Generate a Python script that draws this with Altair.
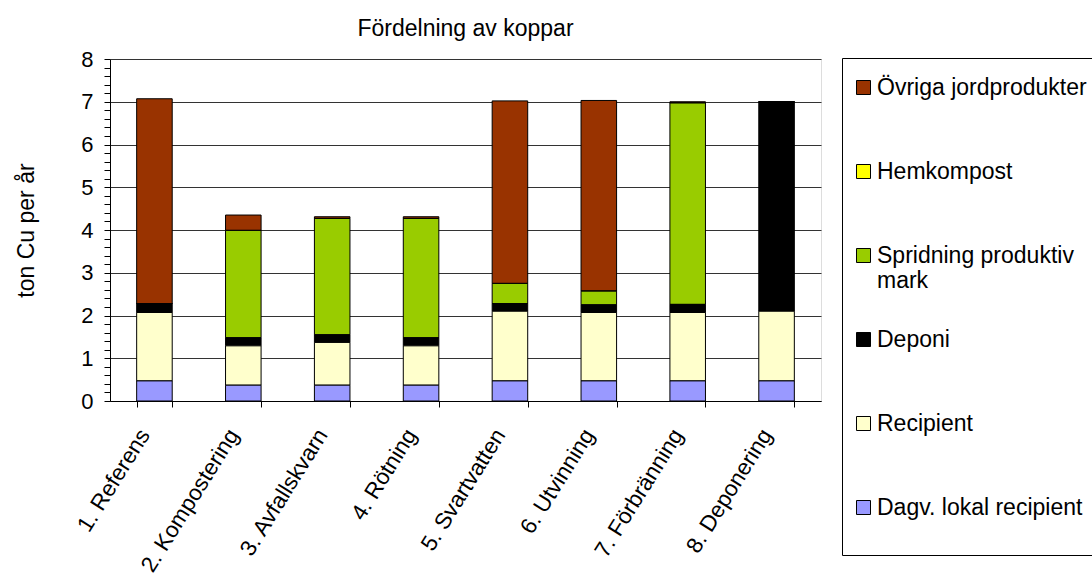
import altair as alt
import pandas as pd

# Scenarios (x categories)
scenarios = [
    "1. Referens", "2. Kompostering", "3. Avfallskvarn", "4. Rötning",
    "5. Svartvatten", "6. Utvinning", "7. Förbränning", "8. Deponering",
]

# Copper flows per scenario, ton Cu per år (one list per destination)
dagv_lokal = [0.47, 0.37, 0.37, 0.37, 0.47, 0.47, 0.47, 0.47]
recipient = [1.60, 0.92, 1.00, 0.92, 1.63, 1.60, 1.60, 1.63]
deponi = [0.21, 0.19, 0.18, 0.19, 0.18, 0.18, 0.19, 4.90]
spridning = [0.00, 2.51, 2.72, 2.79, 0.47, 0.32, 4.71, 0.00]
hemkompost = [0.00, 0.00, 0.00, 0.00, 0.00, 0.00, 0.00, 0.00]
ovriga = [4.79, 0.36, 0.04, 0.04, 4.27, 4.46, 0.03, 0.00]

# Legend order (top to bottom) and colours
series_names = [
    "Övriga jordprodukter", "Hemkompost", "Spridning produktiv mark",
    "Deponi", "Recipient", "Dagv. lokal recipient",
]
series_values = [ovriga, hemkompost, spridning, deponi, recipient, dagv_lokal]
series_colors = ["#993300", "#FFFF00", "#99CC00", "#000000", "#FFFFCC", "#9999FF"]

rows = []
n_series = len(series_names)
for k, (name, vals) in enumerate(zip(series_names, series_values)):
    for scen, v in zip(scenarios, vals):
        # stacking position: last legend entry sits at the bottom
        rows.append({"scenario": scen, "serie": name, "ton": v, "stack": n_series - k})
df = pd.DataFrame(rows)

FONT = "Liberation Sans"
# ticks every 0.2, labels and grid lines only on whole numbers
y_ticks = [round(i * 0.2, 1) for i in range(0, 41)]
IS_MAJOR = "abs(datum.value - round(datum.value)) < 0.001"

# wrap the long legend entry; the last entry gets an empty line below it
LEGEND_LABELS = (
    "datum.label == 'Spridning produktiv mark' ? ['Spridning produktiv', 'mark'] : "
    "datum.label == 'Dagv. lokal recipient' ? ['Dagv. lokal recipient', ''] : datum.label"
)

bars = alt.Chart(df).mark_bar(stroke="black", strokeWidth=1).encode(
    x=alt.X(
        "scenario:N",
        sort=scenarios,
        title=None,
        scale=alt.Scale(paddingInner=0.6, paddingOuter=0.3),
        axis=alt.Axis(
            labelAngle=-58,
            labelAlign="right",
            labelBaseline="bottom",
            labelFont=FONT,
            labelFontSize=22.5,
            labelColor="black",
            labelPadding=30,
            tickBand="extent",
            tickColor="black",
            tickSize=6,
            domainColor="black",
            grid=False,
        ),
    ),
    y=alt.Y(
        "ton:Q",
        stack="zero",
        title="ton Cu per år",
        scale=alt.Scale(domain=[0, 8], nice=False),
        axis=alt.Axis(
            values=y_ticks,
            labelExpr=IS_MAJOR + " ? format(datum.value, 'd') : ''",
            labelOverlap=False,
            gridOpacity=alt.expr(IS_MAJOR + " ? 1 : 0"),
            gridColor="#333333",
            tickSize=6,
            tickColor="black",
            domainColor="black",
            labelFont=FONT,
            labelFontSize=22,
            labelColor="black",
            labelPadding=11,
            titleFont=FONT,
            titleFontSize=23,
            titleFontWeight="normal",
            titleColor="black",
            titlePadding=42,
        ),
    ),
    color=alt.Color(
        "serie:N",
        scale=alt.Scale(domain=series_names, range=series_colors),
        title=" ",
        legend=alt.Legend(
            orient="none",
            legendX=732,
            legendY=-1,
            symbolType="square",
            symbolSize=196,
            symbolStrokeColor="black",
            symbolStrokeWidth=1,
            symbolOpacity=1,
            labelFont=FONT,
            labelFontSize=23,
            labelColor="black",
            labelOffset=2,
            labelLimit=400,
            labelExpr=LEGEND_LABELS,
            gridAlign="all",
            rowPadding=35,
            padding=10,
            titleOrient="top",
            titleFontSize=4,
            titlePadding=4,
            strokeColor="black",
            fillColor="white",
        ),
    ),
    order=alt.Order("stack:Q", sort="ascending"),
)

chart = bars.properties(
    width=711,
    height=342,
    autosize=alt.AutoSizeParams(type="none"),
    padding={"left": 110, "top": 59, "right": 271, "bottom": 178},
    title=alt.TitleParams(
        "Fördelning av koppar",
        font=FONT,
        fontSize=23,
        fontWeight="normal",
        color="black",
        anchor="middle",
        offset=7,
    ),
).configure_view(stroke="black", strokeWidth=1).configure(background="white")

chart.save("out.html", embed_options={"renderer": "svg", "actions": False})
